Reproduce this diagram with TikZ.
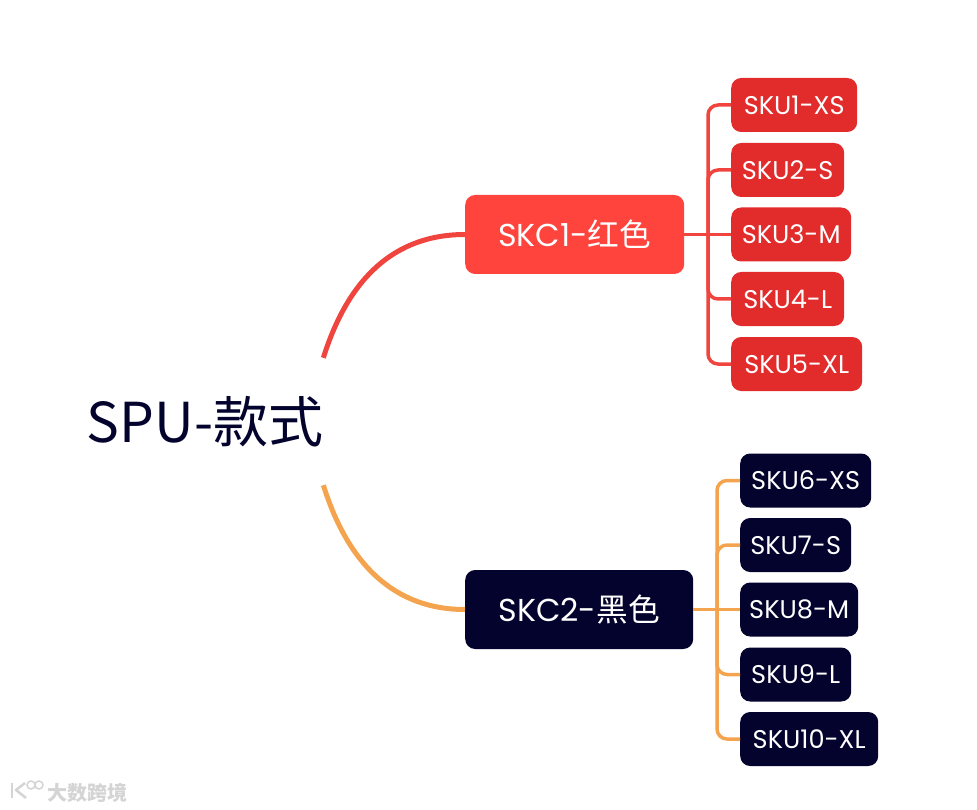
\documentclass[tikz,border=0pt]{standalone}
\usepackage{fontspec}
\setmainfont{Poppins}
\newfontfamily\cjk{Noto Sans CJK SC}
\begin{document}
\begin{tikzpicture}[
  x=1pt, y=-1pt,
  skc/.style={
    rounded corners=10pt, text=white, anchor=west, inner sep=0pt,
    minimum height=79pt, font=\fontsize{31.7}{36}\selectfont
  },
  sku/.style={
    rounded corners=10pt, text=white, anchor=west, inner sep=0pt,
    minimum height=54pt, font=\fontsize{25.6}{28}\selectfont
  },
  redbox/.style={fill=skured},
  navybox/.style={fill=navy},
  redarr/.style={draw=linered, line width=3.5pt, rounded corners=10pt},
  orangearr/.style={draw=lineorange, line width=3.5pt, rounded corners=10pt},
  bigarr/.style={line width=5pt},
]
\definecolor{navy}{HTML}{03032E}
\definecolor{skured}{HTML}{E22C2C}
\definecolor{skcred}{HTML}{FF443D}
\definecolor{linered}{HTML}{F0453F}
\definecolor{lineorange}{HTML}{F4A44F}
\definecolor{wmgray}{HTML}{D4D4D4}

\useasboundingbox (0,0) rectangle (977,810);

\node[inner sep=0pt, minimum height=127pt, minimum width=236pt, text=navy, font=\fontsize{55}{60}\selectfont]
  (spu) at (205,421.5) {{\cjk SPU-款式}};

\node[skc, fill=skcred, minimum width=219pt] (skc1) at (465,234.5) {SKC1-{\cjk 红色}};
\node[skc, navybox, minimum width=228pt]     (skc2) at (465,609.5) {SKC2-{\cjk 黑色}};

\node[sku, redbox, minimum width=126pt] (sku1) at (731,105) {SKU1-XS};
\node[sku, redbox, minimum width=113pt] (sku2) at (731,170) {SKU2-S};
\node[sku, redbox, minimum width=120pt] (sku3) at (731,234.5) {SKU3-M};
\node[sku, redbox, minimum width=113pt] (sku4) at (731,299) {SKU4-L};
\node[sku, redbox, minimum width=131pt] (sku5) at (731,364) {SKU5-XL};

\node[sku, navybox, minimum width=131pt] (sku6)  at (740,480.5) {SKU6-XS};
\node[sku, navybox, minimum width=111pt] (sku7)  at (740,545) {SKU7-S};
\node[sku, navybox, minimum width=118pt] (sku8)  at (740,609.5) {SKU8-M};
\node[sku, navybox, minimum width=111pt] (sku9)  at (740,674.5) {SKU9-L};
\node[sku, navybox, minimum width=138pt] (sku10) at (740,739) {SKU10-XL};

\coordinate (redtrunk) at (708,234.5);
\coordinate (orangetrunk) at (717,609.5);

\draw[linered, bigarr] (spu.north east) .. controls +(25,-80) and +(-70,0) .. (skc1.west);
\draw[lineorange, bigarr] (spu.south east) .. controls +(25,80) and +(-70,0) .. (skc2.west);

\draw[redarr] (skc1.east) -- (sku3.west);
\draw[redarr] (redtrunk) |- (sku1.west);
\draw[redarr] (redtrunk) |- (sku2.west);
\draw[redarr] (redtrunk) |- (sku4.west);
\draw[redarr] (redtrunk) |- (sku5.west);

\draw[orangearr] (skc2.east) -- (sku8.west);
\draw[orangearr] (orangetrunk) |- (sku6.west);
\draw[orangearr] (orangetrunk) |- (sku7.west);
\draw[orangearr] (orangetrunk) |- (sku9.west);
\draw[orangearr] (orangetrunk) |- (sku10.west);

% watermark
\node[inner sep=0pt, anchor=west, text=wmgray, font=\fontsize{20}{24}\selectfont\bfseries] (wm) at (47,793) {{\cjk 大数跨境}};
\draw[wmgray, line width=2.5pt] (12,783) -- (12,798);
\draw[wmgray, line width=2.5pt, line join=round] (25,783) -- (16,790) -- (26,798);
\draw[wmgray, line width=1.5pt] (31,785) circle (4);
\draw[wmgray, line width=1.5pt] (39,785) circle (4);
\end{tikzpicture}
\end{document}
